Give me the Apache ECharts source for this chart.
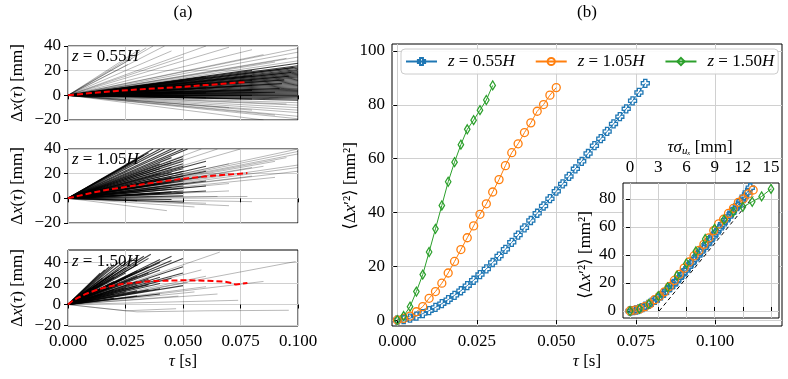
<!DOCTYPE html>
<html>
<head>
<meta charset="utf-8">
<script src="https://cdn.jsdelivr.net/npm/echarts@6/dist/echarts.min.js"></script>
<style>
  html, body { margin: 0; padding: 0; background: #fff; }
  #chart { width: 788px; height: 379px; }
</style>
</head>
<body>
<div id="chart"></div>
<script>
// ---- (b) mean squared displacement, one value every 2 ms ----
const tauBlue = [0.000, 0.002, 0.004, 0.006, 0.008, 0.010, 0.012, 0.014, 0.016, 0.018,
  0.020, 0.022, 0.024, 0.026, 0.028, 0.030, 0.032, 0.034, 0.036, 0.038,
  0.040, 0.042, 0.044, 0.046, 0.048, 0.050, 0.052, 0.054, 0.056, 0.058,
  0.060, 0.062, 0.064, 0.066, 0.068, 0.070, 0.072, 0.074, 0.076, 0.078]
const msdBlue = [0, 0.2, 0.7, 1.5, 2.4, 3.5, 4.7, 6.1, 7.6, 9.2,
  10.9, 12.8, 14.8, 16.9, 19.0, 21.4, 23.8, 26.3, 28.9, 31.6,
  34.3, 37.0, 39.7, 42.4, 45.1, 47.9, 50.6, 53.4, 56.2, 59.0,
  61.9, 64.8, 67.4, 70.1, 72.9, 75.6, 78.5, 81.5, 84.6, 88.0]
const tauOrange = [0.000, 0.002, 0.004, 0.006, 0.008, 0.010, 0.012, 0.014, 0.016, 0.018,
  0.020, 0.022, 0.024, 0.026, 0.028, 0.030, 0.032, 0.034, 0.036, 0.038,
  0.040, 0.042, 0.044, 0.046, 0.048, 0.050]
const msdOrange = [0, 0.6, 1.5, 3.1, 5.0, 8.1, 10.6, 13.7, 17.5, 21.8,
  26.2, 30.6, 35.0, 39.3, 43.2, 47.6, 52.2, 57.4, 62.2, 65.5,
  69.7, 73.3, 77.6, 80.1, 83.6, 86.4]
const tauGreen = [0.000, 0.002, 0.004, 0.006, 0.008, 0.010, 0.012, 0.014, 0.016, 0.018,
  0.020, 0.022, 0.024, 0.026, 0.028, 0.030]
const msdGreen = [0, 1.5, 5.0, 10.6, 16.9, 25.3, 33.9, 42.6, 51.4, 58.7,
  65.2, 70.9, 74.3, 78.0, 81.8, 87.2]
// velocity std of each height [mm/s], used for the inset abscissa
const sigmaBlue = 164
const sigmaOrange = 262
const sigmaGreen = 500
// dashed guide line of the inset
const guideX = [3.1, 13.1]
const guideY = [0, 81.6]

// ---- (a) mean displacement (red dashed) ----
const tauMean055 = [0, 0.01, 0.02, 0.03, 0.04, 0.05, 0.06, 0.07, 0.078]
const meanDx055 = [0, 1.8, 3.4, 4.7, 5.8, 6.8, 8.3, 9.8, 10.8]
const tauMean105 = [0, 0.005, 0.01, 0.015, 0.02, 0.025, 0.03, 0.04, 0.05, 0.06, 0.07, 0.078]
const meanDx105 = [0, 2.2, 4.3, 6.2, 7.8, 9.2, 10.7, 13.4, 15.9, 17.8, 19.3, 20.5]
const tauMean150 = [0, 0.002, 0.004, 0.006, 0.008, 0.012, 0.016, 0.02, 0.025, 0.03, 0.037,
  0.045, 0.05, 0.056, 0.063, 0.068, 0.071, 0.073, 0.075, 0.078]
const meanDx150 = [0, 3.5, 6, 8.2, 10.3, 13.6, 16.3, 18.2, 20, 21, 22.3,
  22.8, 23.2, 23, 22.5, 21.8, 20.5, 19, 19.6, 20.6]

// ---- (a) single trajectories, end point [tau, dx] (they all start at 0,0) ----
// sparse outliers (light) and the dense bundle (dark)
const outer055 = [
  [0.037, 40], [0.034, 38.5], [0.031, 37], [0.042, 40], [0.028, 30], [0.045, 36], [0.026, 25],
  [0.05, 31], [0.06, 40], [0.07, 39], [0.08, 37],
  [0.1, 38], [0.1, 35], [0.1, 31], [0.1, 28], [0.095, 30], [0.09, 27], [0.085, 33],
  [0.1, -6], [0.1, -8], [0.1, -10], [0.1, -12], [0.1, -14], [0.1, -17], [0.1, -19],
  [0.09, -16], [0.08, -12], [0.085, -20], [0.07, -10], [0.095, -7]
]
const core055 = [
  [0.1, 26], [0.1, 24], [0.1, 23], [0.1, 22], [0.1, 21], [0.1, 20], [0.1, 19], [0.1, 18], [0.1, 17],
  [0.1, 16], [0.1, 15], [0.1, 14], [0.1, 13], [0.1, 12], [0.1, 11], [0.1, 10], [0.1, 9],
  [0.1, 8], [0.1, 7], [0.1, 6], [0.1, 5], [0.1, 4], [0.1, 3], [0.1, 2], [0.1, 1], [0.1, 0],
  [0.1, -1], [0.1, -2], [0.1, -3], [0.1, -4],
  [0.098, 22.5], [0.097, 18.5], [0.096, 15.5], [0.094, 12.5], [0.093, 9.5], [0.092, 5.5], [0.09, 2.5],
  [0.08, 20], [0.08, 16], [0.08, 12], [0.08, 8], [0.08, 4], [0.08, 0], [0.08, -3],
  [0.06, 15], [0.06, 10], [0.06, 6], [0.06, 2], [0.06, -2],
  [0.05, 12], [0.05, 8], [0.05, 3], [0.05, -1]
]
const outer105 = [
  [0.058, 40], [0.065, 40], [0.075, 40], [0.1, 40], [0.1, 38], [0.1, 36], [0.095, 33],
  [0.1, 27], [0.1, 25], [0.09, 30], [0.085, 26], [0.08, 25], [0.09, 17], [0.08, 18], [0.1, 22],
  [0.043, -10], [0.055, -7], [0.07, -6], [0.065, 1.5], [0.078, 1.5], [0.08, -2.7], [0.06, -4],
  [0.07, 28], [0.07, 20], [0.07, 12], [0.07, 6]
]
const core105 = [
  [0.037, 40], [0.040, 40], [0.042, 40], [0.045, 40], [0.047, 40], [0.05, 40], [0.052, 40],
  [0.033, 35], [0.035, 37], [0.03, 31],
  [0.05, 34], [0.05, 32], [0.05, 30], [0.05, 28], [0.05, 26], [0.05, 24], [0.05, 22], [0.05, 20],
  [0.05, 18], [0.05, 16], [0.05, 14], [0.05, 12], [0.05, 10], [0.05, 8], [0.05, 6], [0.05, 4], [0.05, 2],
  [0.06, 30], [0.06, 26], [0.06, 22], [0.06, 18], [0.06, 14], [0.06, 10], [0.06, 6],
  [0.04, 28], [0.04, 24], [0.04, 20], [0.04, 16], [0.04, 12], [0.04, 8], [0.04, 4],
  [0.045, 33], [0.045, 29], [0.045, 25], [0.045, 21], [0.045, 17], [0.045, 13], [0.045, 9], [0.045, 5],
  [0.05, -3], [0.03, -2], [0.045, -1]
]
const outer150 = [
  [0.066, 50], [0.099, 41], [0.085, 22], [0.06, 27], [0.06, 17], [0.055, 12],
  [0.065, 10], [0.074, 4], [0.048, 8], [0.058, 33], [0.052, 21]
]
const core150 = [
  [0.036, 48], [0.033, 46], [0.030, 45], [0.028, 44], [0.025, 42], [0.022, 40], [0.02, 38],
  [0.018, 36], [0.035, 44], [0.04, 43], [0.045, 42], [0.05, 44], [0.045, 46], [0.04, 40],
  [0.016, 33], [0.014, 30],
  [0.02, 30], [0.02, 26], [0.02, 22], [0.02, 18], [0.02, 14], [0.02, 10], [0.02, 6],
  [0.025, 35], [0.025, 30], [0.025, 25], [0.025, 20], [0.025, 16], [0.025, 12],
  [0.03, 38], [0.03, 32], [0.03, 27], [0.03, 22], [0.03, 18], [0.03, 13], [0.03, 8],
  [0.035, 36], [0.035, 30], [0.035, 24], [0.035, 19], [0.035, 14],
  [0.04, 33], [0.04, 26], [0.04, 20], [0.04, 15], [0.04, 10],
  [0.015, 25], [0.015, 20], [0.015, 15], [0.015, 10], [0.012, 18], [0.01, 12], [0.01, 16],
  [0.012, 8], [0.018, 27], [0.022, 33], [0.028, 29],
  [0.05, 30], [0.05, 18], [0.045, 25], [0.05, 36]
]
// trajectories that bend, points after the origin
const bent150 = [
  [[0.012, -3], [0.03, -7], [0.06, -6], [0.096, -5.5]],
  [[0.025, -6], [0.047, -4]]
]

const SERIF = '"Liberation Serif", "DejaVu Serif", serif'
const BLUE = '#1f77b4'
const ORANGE = '#ff7f0e'
const GREEN = '#2ca02c'
const PLUS = 'path://M3,0 H7 V3 H10 V7 H7 V10 H3 V7 H0 V3 H3 Z'
const THIN_DIAMOND = 'path://M3,0 L6,5 L3,10 L0,5 Z'

const rich = {
  i: { fontFamily: SERIF, fontStyle: 'italic', fontSize: 17, color: '#000' },
  r: { fontFamily: SERIF, fontSize: 17, color: '#000' },
  s: { fontFamily: SERIF, fontStyle: 'italic', fontSize: 11, color: '#000', verticalAlign: 'bottom' },
  sp: { width: 6 }
}

const zip = (xs, ys) => xs.map((x, k) => [x, ys[k]])
const minus = v => (v < 0 ? '\u2212' + Math.abs(v) : String(v))

// 坐标轴公共样式
function makeAxis (gi, min, max, ticks, opts) {
  opts = opts || {}
  return {
    type: 'value',
    gridIndex: gi,
    min: min,
    max: max,
    position: opts.position,
    z: opts.z,
    axisLine: { show: false },
    axisTick: { show: true, length: 4, customValues: ticks, lineStyle: { color: '#000', width: 1 } },
    axisLabel: {
      show: opts.label !== false,
      customValues: ticks,
      color: '#000',
      fontFamily: SERIF,
      fontSize: 17,
      margin: 7,
      formatter: opts.fmt || minus
    },
    splitLine: { show: true, lineStyle: { color: '#d0d0d0', width: 1 } }
  }
}

const series = []
// 轨迹线
function addTraj (list, gi, width, opacity) {
  list.forEach(p => series.push({
    type: 'line', xAxisIndex: gi, yAxisIndex: gi, symbol: 'none', silent: true, z: 2,
    data: [[0, 0]].concat(p),
    lineStyle: { color: '#000', width: width, opacity: opacity }
  }))
}
const asPath = ends => ends.map(e => [e])
addTraj(asPath(outer055), 0, 0.7, 0.4)
addTraj(asPath(core055), 0, 1.1, 0.75)
addTraj(asPath(outer105), 1, 0.7, 0.4)
addTraj(asPath(core105), 1, 1.1, 0.75)
addTraj(asPath(outer150), 2, 0.7, 0.4)
addTraj(bent150, 2, 0.7, 0.4)
addTraj(asPath(core150), 2, 1.1, 0.75)

// 平均位移 红色虚线
;[[tauMean055, meanDx055], [tauMean105, meanDx105], [tauMean150, meanDx150]].forEach((m, gi) => {
  series.push({
    type: 'line', xAxisIndex: gi, yAxisIndex: gi, symbol: 'none', silent: true, z: 5,
    data: zip(m[0], m[1]),
    lineStyle: { color: '#ff0000', width: 2, type: [6, 3] }
  })
})

// (b) 主图 + 插图
const msdSets = [
  { name: 'z055', tau: tauBlue, msd: msdBlue, sigma: sigmaBlue, color: BLUE, symbol: PLUS, size: 8 },
  { name: 'z105', tau: tauOrange, msd: msdOrange, sigma: sigmaOrange, color: ORANGE, symbol: 'circle', size: 8 },
  { name: 'z150', tau: tauGreen, msd: msdGreen, sigma: sigmaGreen, color: GREEN, symbol: THIN_DIAMOND, size: [5.5, 9] }
]
msdSets.forEach(s => {
  const common = {
    type: 'line',
    symbol: s.symbol,
    symbolSize: s.size,
    showAllSymbol: true,
    clip: false,
    itemStyle: { color: 'rgba(255,255,255,0)', borderColor: s.color, borderWidth: 1.3 },
    lineStyle: { color: s.color, width: 1 }
  }
  series.push(Object.assign({}, common, {
    name: s.name, xAxisIndex: 3, yAxisIndex: 3, z: 3,
    data: zip(s.tau, s.msd)
  }))
  series.push(Object.assign({}, common, {
    name: s.name + '_inset', xAxisIndex: 4, yAxisIndex: 4, z: 6,
    data: s.tau.map((t, k) => [t * s.sigma, s.msd[k]])
  }))
})
series.push({
  type: 'line', xAxisIndex: 4, yAxisIndex: 4, symbol: 'none', silent: true, z: 5,
  data: zip(guideX, guideY),
  lineStyle: { color: '#000', width: 1, type: [4, 3] }
})

const tauTicks = [0, 0.025, 0.05, 0.075, 0.1]
const fmtTau = v => v.toFixed(3)

const legendText = { z055: '0.55', z105: '1.05', z150: '1.50' }

function txt (x, y, text, rot, align) {
  return {
    type: 'text', x: x, y: y, rotation: rot ? Math.PI / 2 : 0, z: 10, silent: true,
    style: { text: text, rich: rich, align: align || 'center', verticalAlign: 'middle', font: '17px ' + SERIF, fill: '#000' }
  }
}
const dxName = '{r|Δ}{i|x}{r|(}{i|τ}{r|) [mm]}'
const msdName = '{r|⟨Δ}{i|x}{r|′²⟩ [mm²]}'

const option = {
  animation: false,
  backgroundColor: '#fff',
  grid: [
    { left: 68, top: 46, width: 230, height: 74, show: true, borderColor: '#000', borderWidth: 1 },
    { left: 68, top: 149, width: 230, height: 74, show: true, borderColor: '#000', borderWidth: 1 },
    { left: 68, top: 250, width: 230, height: 76, show: true, borderColor: '#000', borderWidth: 1 },
    { left: 392, top: 44, width: 390, height: 282, show: true, borderColor: '#000', borderWidth: 1 },
    { left: 623, top: 183, width: 156, height: 135, show: true, borderColor: '#000', borderWidth: 1, backgroundColor: '#fff', z: 3 }
  ],
  xAxis: [
    makeAxis(0, 0, 0.1, tauTicks, { label: false }),
    makeAxis(1, 0, 0.1, tauTicks, { label: false }),
    makeAxis(2, 0, 0.1, tauTicks, { fmt: fmtTau }),
    makeAxis(3, -0.00167, 0.121, tauTicks, { fmt: fmtTau }),
    makeAxis(4, -0.75, 15.85, [0, 3, 6, 9, 12, 15], { position: 'top', z: 4 })
  ],
  yAxis: [
    makeAxis(0, -20, 40, [-20, 0, 20, 40]),
    makeAxis(1, -20, 40, [-20, 0, 20, 40]),
    makeAxis(2, -20.5, 52, [-20, 0, 20, 40]),
    makeAxis(3, -2.2, 102.6, [0, 20, 40, 60, 80, 100]),
    makeAxis(4, -5, 91.4, [0, 20, 40, 60, 80], { z: 4 })
  ],
  legend: {
    data: ['z055', 'z105', 'z150'],
    left: 401,
    top: 49,
    width: 440,
    itemWidth: 31,
    itemHeight: 9,
    itemGap: 20,
    padding: [4, 4, 4, 4],
    borderColor: '#cccccc',
    borderWidth: 1,
    borderRadius: 4,
    backgroundColor: 'rgba(255,255,255,0.9)',
    selectedMode: false,
    formatter: name => '{sp| }{i|z}{r| = ' + legendText[name] + '}{i|H}',
    textStyle: { rich: rich }
  },
  graphic: [
    txt(183, 13, '{r|(a)}'),
    txt(587, 13, '{r|(b)}'),
    txt(72, 57, '{i|z}{r| = 0.55}{i|H}', false, 'left'),
    txt(72, 160, '{i|z}{r| = 1.05}{i|H}', false, 'left'),
    txt(72, 262, '{i|z}{r| = 1.50}{i|H}', false, 'left'),
    txt(18, 83, dxName, true),
    txt(18, 186, dxName, true),
    txt(18, 288, dxName, true),
    txt(183, 362, '{i|τ}{r| [s]}'),
    txt(587, 362, '{i|τ}{r| [s]}'),
    txt(351, 186, msdName, true),
    txt(586, 255, msdName, true),
    txt(700, 148, '{i|τσ}{s|uₓ}{r| [mm]}')
  ],
  series: series
}

const chartInstance = echarts.init(document.getElementById('chart'))
chartInstance.setOption(option)
</script>
</body>
</html>
